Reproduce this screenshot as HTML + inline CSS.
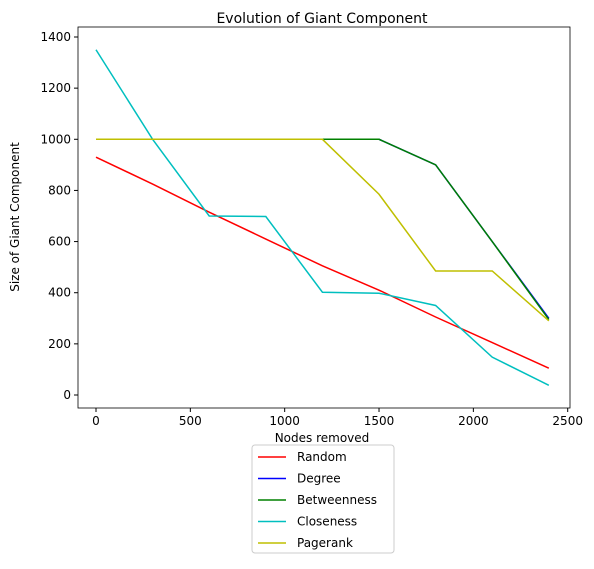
<!DOCTYPE html>
<html><head><meta charset="utf-8"><style>
body{margin:0;background:#fff;font-family:"Liberation Sans","DejaVu Sans",sans-serif;}
svg text{font-family:"DejaVu Sans","Liberation Sans",sans-serif;}
</style></head><body>
<svg id="chart" width="594" height="564" xmlns="http://www.w3.org/2000/svg">
<text x="322" y="23" font-size="14" text-anchor="middle">Evolution of Giant Component</text>
<rect x="78" y="27" width="492" height="381" fill="none" stroke="#000" stroke-width="0.8"/>
<g id="xt"></g><g id="yt"></g><g id="series"></g>
<text x="322" y="442" font-size="12" text-anchor="middle">Nodes removed</text>
<text transform="translate(19,217) rotate(-90)" font-size="12" text-anchor="middle">Size of Giant Component</text>
<g id="legend"><rect x="252" y="445" width="142" height="108" rx="3" fill="#fff" stroke="#ccc"/></g>
</svg>
<script>
const xValues=[0,300,600,900,1200,1500,1800,2100,2400];
const randomVals=[930,825,715,610,505,410,305,205,105];
const degreeVals=[1000,1000,1000,1000,1000,1000,900,600,300];
const betweennessVals=[1000,1000,1000,1000,1000,1000,900,600,295];
const closenessVals=[1350,1000,700,698,402,398,350,148,38];
const pagerankVals=[1000,1000,1000,1000,1000,785,485,485,290];
const xTicks=[0,500,1000,1500,2000,2500];
const yTicks=[0,200,400,600,800,1000,1200,1400];
const seriesNames=["Random","Degree","Betweenness","Closeness","Pagerank"];
const seriesColors=["#ff0000","#0000ff","#008000","#00bfbf","#bfbf00"];
const NS="http://www.w3.org/2000/svg";
function xs(v){return 96+v*(567.7-96)/2500;}
function ys(v){return 395-v*(395-37)/1400;}
function mk(t,a,p){const e=document.createElementNS(NS,t);for(const k in a)e.setAttribute(k,a[k]);p.appendChild(e);return e;}
const xt=document.getElementById('xt');
xTicks.forEach(t=>{
 const l=mk('line',{x1:xs(t),x2:xs(t),y1:408,y2:412,stroke:'#000'},xt);
 
 
 const tx=mk('text',{x:xs(t),y:425,'font-size':12,'text-anchor':'middle'},xt);tx.textContent=t;
 
 
});
const yt=document.getElementById('yt');
yTicks.forEach(t=>{
 const l=mk('line',{x1:74,x2:78,y1:ys(t),y2:ys(t),stroke:'#000'},yt);
 
 
 const tx=mk('text',{x:71,y:ys(t)+4,'font-size':12,'text-anchor':'end'},yt);tx.textContent=t;
 
 
});
const data=[randomVals,degreeVals,betweennessVals,closenessVals,pagerankVals];
const sg=document.getElementById('series');
data.forEach((d,i)=>{
 const p=mk('polyline',{points:d.map((v,j)=>xs(xValues[j])+','+ys(v)).join(' '),fill:'none',stroke:seriesColors[i],'stroke-width':1.5},sg);
 
 
});
const lg=document.getElementById('legend');
seriesNames.forEach((n,i)=>{
 const y=457+i*21.5;
 const l=mk('line',{x1:258,x2:286,y1:y,y2:y,stroke:seriesColors[i],'stroke-width':1.5},lg);
 
 
 const t=mk('text',{x:297,y:y+4,'font-size':12},lg);t.textContent=n;
 
 
});
</script>
</body></html>
